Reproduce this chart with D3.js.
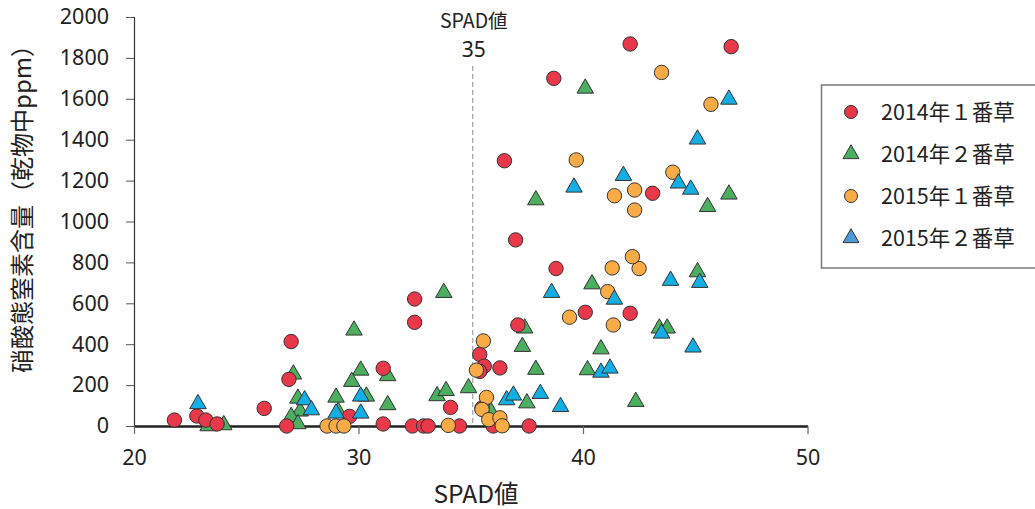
<!DOCTYPE html>
<html>
<head>
<meta charset="utf-8">
<script src="https://cdn.jsdelivr.net/npm/d3@7"></script>
<style>
  html, body { margin: 0; padding: 0; background: #fff; }
  svg { display: block; }
  text { fill: #222; }
</style>
</head>
<body>
<svg id="chart" width="1035" height="509"></svg>
<script>
// ---- data ----
const xTicks = [20, 30, 40, 50];
const yTicks = [0, 200, 400, 600, 800, 1000, 1200, 1400, 1600, 1800, 2000];
const xTitle = "SPAD値";
const yTitle = "硝酸態窒素含量（乾物中ppm）";
const refValue = 35;
const refLabel = ["SPAD値", "35"];

const seriesNames = ["2014年１番草", "2014年２番草", "2015年１番草", "2015年２番草"];

// 2014年１番草 (red circles) [SPAD, ppm]
const red2014a = [
  [21.8, 29], [22.8, 49], [23.2, 29], [23.7, 10], [25.8, 86], [27.0, 413],
  [26.9, 228], [26.8, 0], [29.6, 47], [31.1, 282], [31.1, 10], [32.5, 621],
  [32.5, 507], [32.4, 0], [32.9, 0], [33.1, 0], [34.1, 91], [34.5, 0],
  [35.4, 350], [35.6, 293], [35.4, 267], [36.3, 284], [35.5, 88], [36.0, 0],
  [37.1, 494], [37.6, 0], [38.8, 770], [40.1, 556], [42.1, 551], [42.1, 1868],
  [46.6, 1855], [38.7, 1700], [36.5, 1297], [43.1, 1138], [37.0, 910]
];
// 2014年２番草 (green triangles)
const green2014b = [
  [23.3, 0], [24.0, 5], [27.1, 253], [27.3, 135], [27.4, 72], [27.0, 45],
  [27.3, 10], [29.8, 468], [30.1, 272], [29.7, 217], [29.0, 140], [29.1, 70],
  [30.35, 145], [31.3, 245], [31.3, 103], [33.8, 652], [33.5, 147], [33.9, 172],
  [34.9, 186], [35.9, 70], [37.4, 478], [37.3, 388], [37.9, 276], [37.5, 112],
  [40.4, 694], [43.4, 478], [43.75, 478], [40.8, 376], [40.2, 274], [42.35, 119],
  [45.1, 753], [40.1, 1651], [46.5, 1133], [37.9, 1105], [45.55, 1072]
];
// 2015年１番草 (orange circles)
const orange2015a = [
  [28.6, 0], [29.0, 0], [29.35, 0], [34.0, 3], [35.56, 416], [35.25, 273],
  [35.7, 140], [35.5, 81], [35.8, 31], [36.3, 40], [36.4, 1], [39.4, 532],
  [41.1, 657], [41.35, 494], [41.3, 773], [42.5, 770], [42.2, 828], [43.5, 1729],
  [45.7, 1573], [39.7, 1301], [44.0, 1241], [41.4, 1126], [42.3, 1154], [42.3, 1056]
];
// 2015年２番草 (blue triangles)
const blue2015b = [
  [22.85, 108], [27.6, 127], [27.9, 78], [29.0, 62], [30.1, 145], [30.1, 62],
  [36.6, 127], [36.9, 150], [38.1, 158], [39.0, 94], [38.6, 652], [41.4, 619],
  [43.5, 453], [44.9, 385], [40.8, 262], [41.2, 282], [43.9, 711], [45.2, 701],
  [46.5, 1597], [45.1, 1402], [41.8, 1224], [39.6, 1167], [44.25, 1187], [44.8, 1157]
];

// ---- styles ----
const series = [
  { name: seriesNames[0], data: red2014a,   shape: "circle",   color: "#e8384a", legendColor: "#e8384a" },
  { name: seriesNames[1], data: green2014b, shape: "triangle", color: "#4cae5f", legendColor: "#4cae5f" },
  { name: seriesNames[2], data: orange2015a, shape: "circle",  color: "#f9ab45", legendColor: "#f9ab45" },
  { name: seriesNames[3], data: blue2015b,  shape: "triangle", color: "#12aee4", legendColor: "#4d9bd6" }
];
const drawOrder = [1, 0, 2, 3];

const svg = d3.select("#chart");
const x = d3.scaleLinear().domain([20, 50]).range([134, 807.5]);
const y = d3.scaleLinear().domain([0, 2000]).range([426, 17]);

const numFont = "'Noto Sans', 'Open Sans', sans-serif";
const cjkFont = "'Noto Sans CJK JP', 'Noto Sans', sans-serif";

// reference dashed line
svg.append("line")
  .attr("x1", x(refValue) + 2).attr("x2", x(refValue) + 2)
  .attr("y1", 66).attr("y2", y(0))
  .attr("stroke", "#a0a0a0").attr("stroke-width", 1.2)
  .attr("stroke-dasharray", "5,3");
svg.append("text")
  .attr("x", x(refValue) + 3).attr("y", 28)
  .attr("text-anchor", "middle")
  .style("font-family", cjkFont).style("font-size", "19.5px")
  .text(refLabel[0]);
svg.append("text")
  .attr("x", x(refValue) + 3).attr("y", 57)
  .attr("text-anchor", "middle")
  .style("font-family", numFont).style("font-size", "21px")
  .text(refLabel[1]);

// y axis
const yAxis = svg.append("g").attr("transform", `translate(${x(20)},0)`)
  .call(d3.axisLeft(y).tickValues(yTicks).tickFormat(d3.format("d")).tickSize(8).tickPadding(17));
yAxis.select(".domain").attr("stroke", "#333").attr("stroke-width", 1.2);
yAxis.selectAll(".tick line").attr("stroke", "#555");
yAxis.selectAll(".tick text").style("font-family", numFont).style("font-size", "21.5px").attr("fill", "#222");

// x axis
const xAxis = svg.append("g").attr("transform", `translate(0,${y(0)})`)
  .call(d3.axisBottom(x).tickValues(xTicks).tickFormat(d3.format("d")).tickSize(8).tickPadding(16).tickSizeOuter(0));
xAxis.select(".domain").attr("stroke", "#222").attr("stroke-width", 2.5);
xAxis.selectAll(".tick line").attr("stroke", "#666").attr("stroke-width", 1.2);
xAxis.selectAll(".tick text").style("font-family", numFont).style("font-size", "21.5px").attr("fill", "#222");

// axis titles
svg.append("text")
  .attr("x", 476).attr("y", 503)
  .attr("text-anchor", "middle")
  .style("font-family", cjkFont).style("font-size", "24.5px")
  .text(xTitle);
svg.append("text")
  .attr("transform", `translate(31,${203}) rotate(-90)`)
  .attr("text-anchor", "middle")
  .style("font-family", cjkFont).style("font-size", "24px")
  .text(yTitle);

// points
const symCircle = d3.symbol().type(d3.symbolCircle).size(Math.PI * 7.2 * 7.2);
const symTri = d3.symbol().type(d3.symbolTriangle).size(Math.sqrt(3) / 4 * 16.5 * 16.5);
drawOrder.forEach(i => {
  const s = series[i];
  svg.append("g").selectAll("path").data(s.data).join("path")
    .attr("transform", d => `translate(${x(d[0])},${y(d[1])})`)
    .attr("d", s.shape === "circle" ? symCircle() : symTri())
    .attr("fill", s.color)
    .attr("stroke", "#333").attr("stroke-width", 1);
});

// legend
const lg = svg.append("g");
lg.append("rect")
  .attr("x", 821.5).attr("y", 85).attr("width", 230).attr("height", 183)
  .attr("fill", "#fff").attr("stroke", "#7a7a7a").attr("stroke-width", 1.5);
const legSymC = d3.symbol().type(d3.symbolCircle).size(Math.PI * 6.5 * 6.5);
const legSymT = d3.symbol().type(d3.symbolTriangle).size(Math.sqrt(3) / 4 * 16 * 16);
series.forEach((s, i) => {
  const cy = 112 + i * 42;
  lg.append("path")
    .attr("transform", `translate(851,${cy})`)
    .attr("d", s.shape === "circle" ? legSymC() : legSymT())
    .attr("fill", s.legendColor).attr("stroke", "#333").attr("stroke-width", 1);
  lg.append("text")
    .attr("x", 881).attr("y", cy + 7.5)
    .style("font-family", cjkFont).style("font-size", "21.5px")
    .text(s.name);
});
</script>
</body>
</html>
